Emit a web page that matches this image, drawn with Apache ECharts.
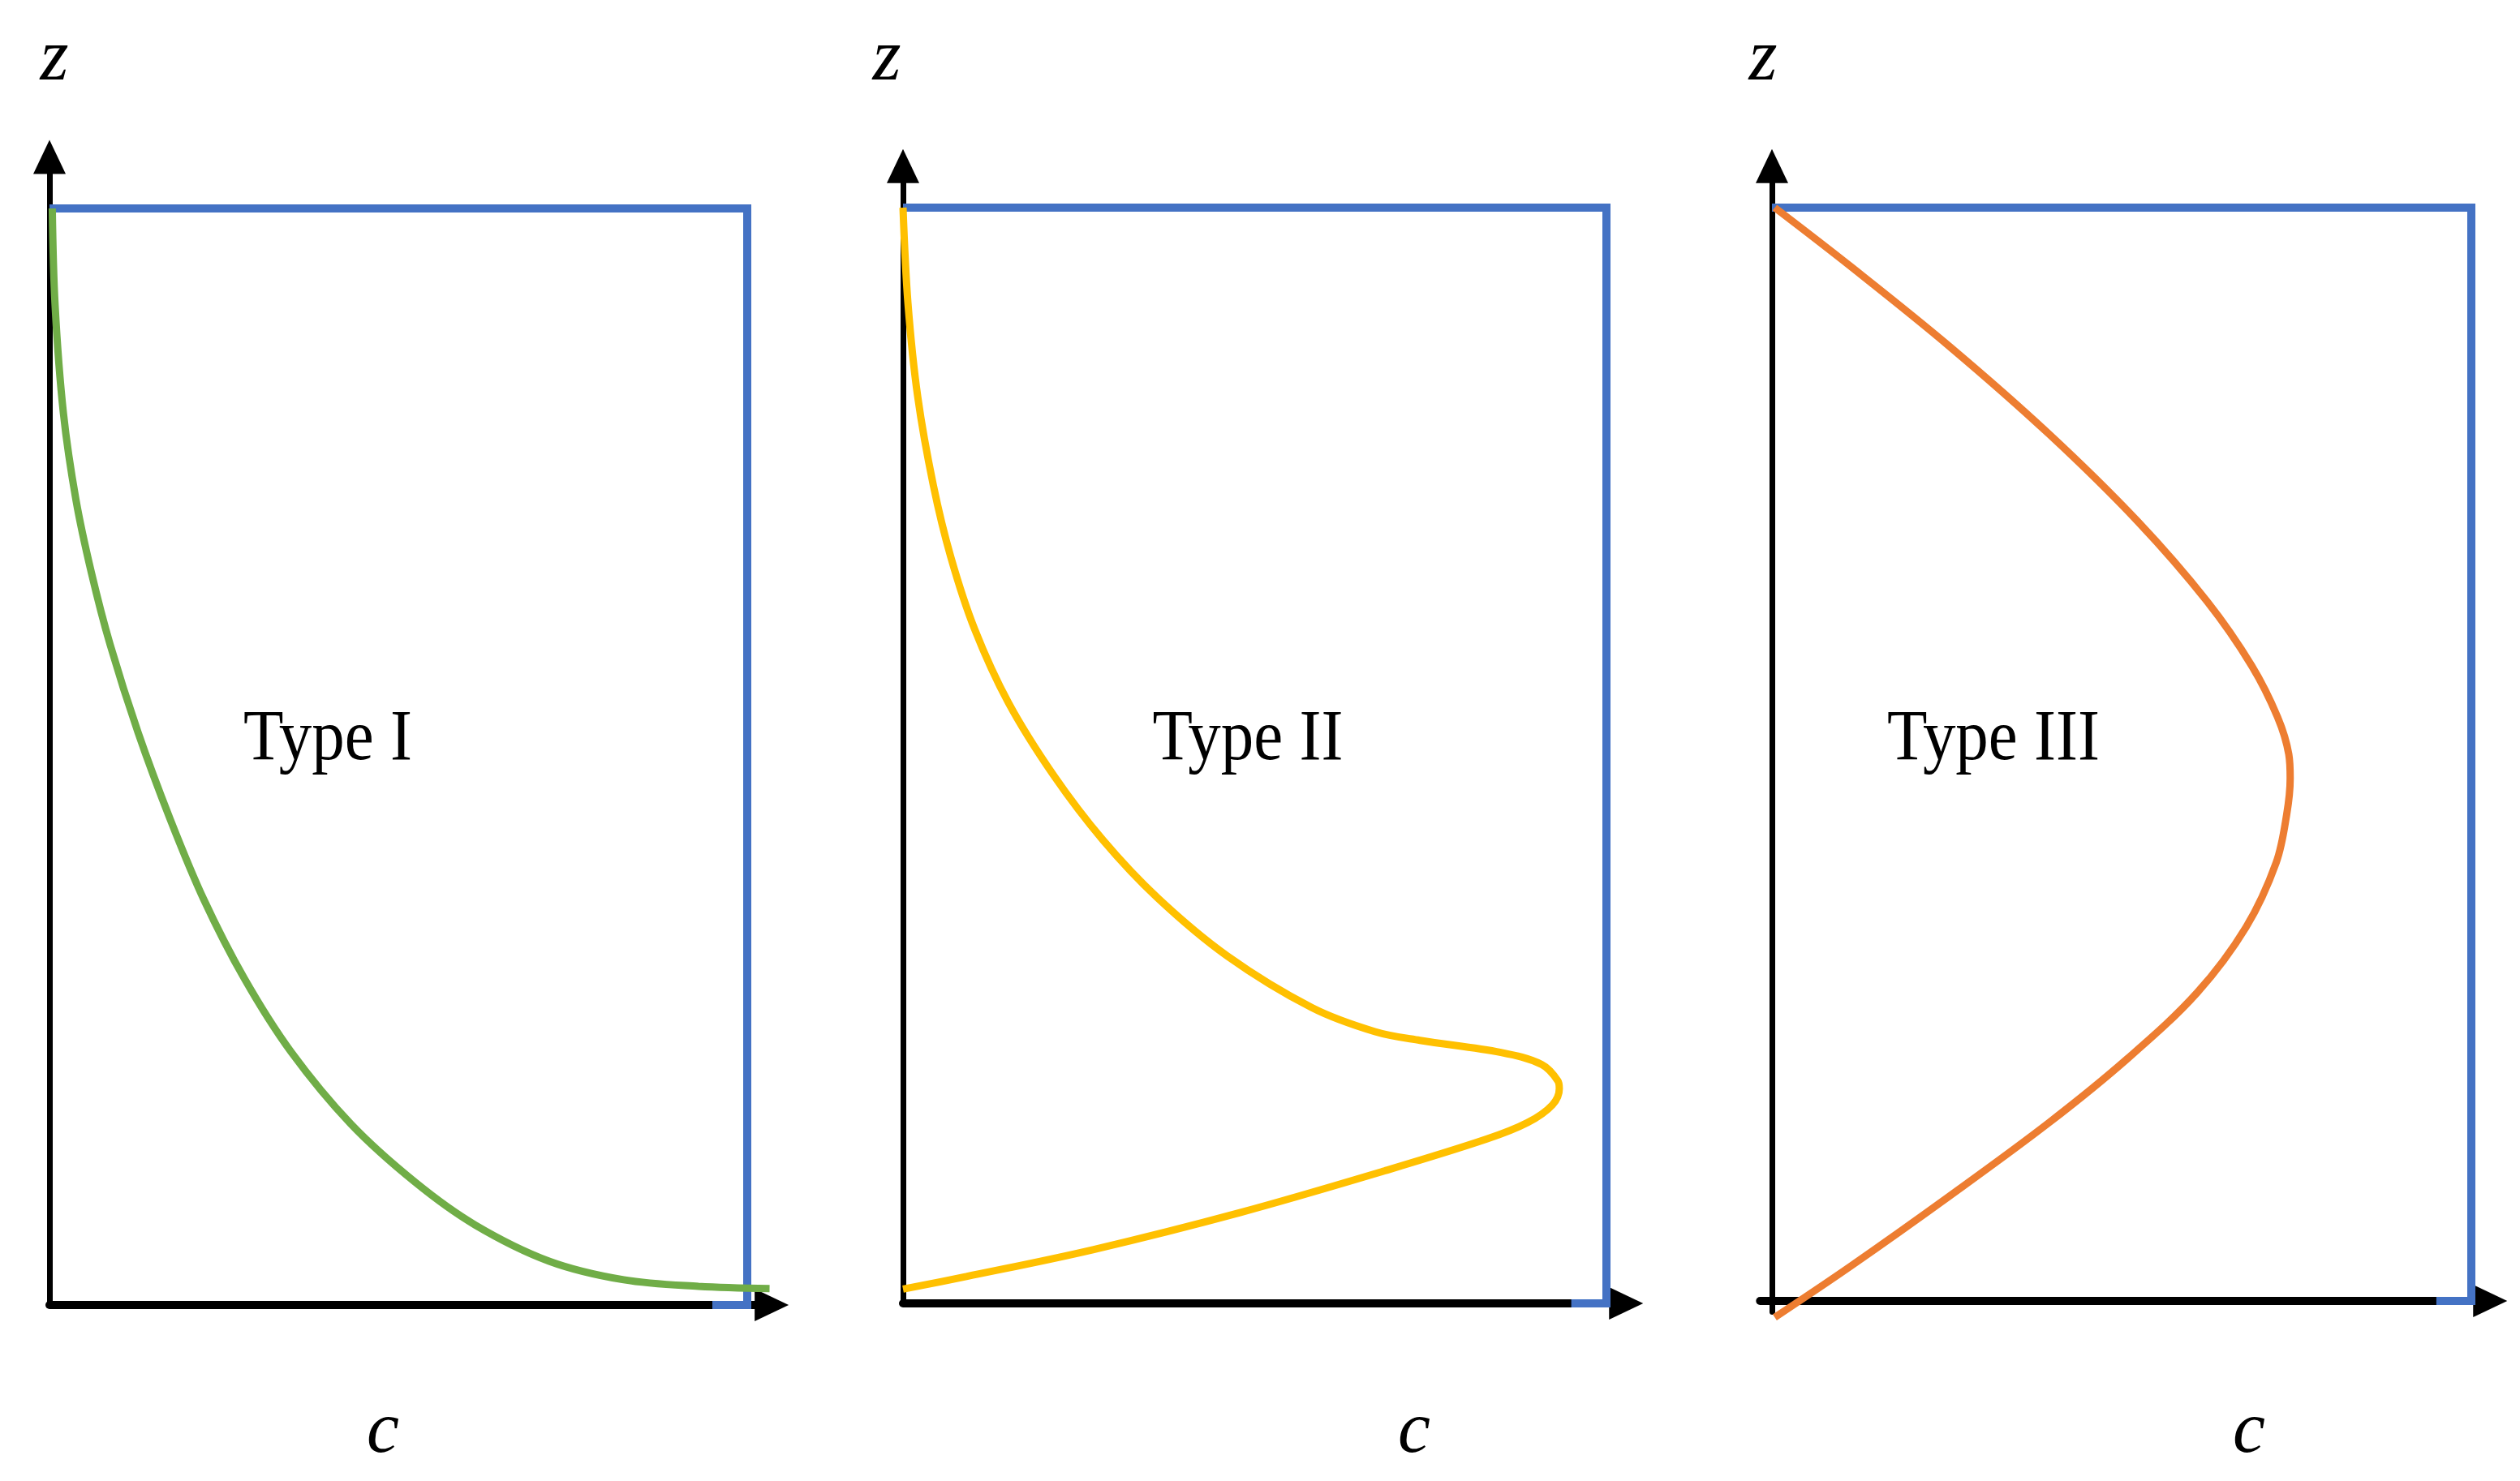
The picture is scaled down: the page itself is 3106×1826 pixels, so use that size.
<!DOCTYPE html>
<html>
<head>
<meta charset="utf-8">
<style>
  html, body { margin: 0; padding: 0; background: #fff; }
  #chart { width: 3106px; height: 1826px; }
</style>
<script src="https://cdn.jsdelivr.net/npm/echarts@6/dist/echarts.min.js"></script>
</head>
<body>
<div id="chart"></div>
<script>
// c = concentration (box width = 1), z = depth (box height = 1)
const typeI_c = [0.004, 0.008, 0.020, 0.038, 0.060, 0.087, 0.127, 0.173, 0.221, 0.279, 0.346, 0.432, 0.524, 0.610, 0.716, 0.823, 0.930, 1.032];
const typeI_z = [1.0, 0.912, 0.813, 0.734, 0.668, 0.602, 0.522, 0.443, 0.370, 0.298, 0.231, 0.165, 0.112, 0.073, 0.040, 0.023, 0.017, 0.015];

const typeII_c = [0, 0.007, 0.021, 0.043, 0.068, 0.102, 0.150, 0.214, 0.284, 0.362, 0.461, 0.581, 0.671, 0.735, 0.850, 0.908, 0.931, 0.933, 0.923, 0.888, 0.830, 0.685, 0.48, 0.27, 0.09, 0];
const typeII_z = [1.0, 0.913, 0.827, 0.747, 0.681, 0.615, 0.548, 0.482, 0.423, 0.370, 0.317, 0.270, 0.248, 0.240, 0.229, 0.218, 0.203, 0.196, 0.181, 0.165, 0.150, 0.121, 0.083, 0.049, 0.0245, 0.013];

const typeIII_c = [0.004, 0.113, 0.254, 0.396, 0.523, 0.622, 0.686, 0.723, 0.739, 0.741, 0.736, 0.721, 0.678, 0.608, 0.509, 0.396, 0.254, 0.113, 0.004];
const typeIII_z = [1.0, 0.946, 0.873, 0.793, 0.713, 0.640, 0.581, 0.534, 0.500, 0.478, 0.445, 0.401, 0.342, 0.282, 0.222, 0.163, 0.096, 0.032, -0.015];

// blue outline: top edge, right edge, short stub along the c axis
const box_c = [0, 1, 1, 0.95];
const box_z = [1, 1, 0, 0];

const typeNames = ['Type I', 'Type II', 'Type III'];
const curveColors = ['#70AD47', '#FFC000', '#ED7D31'];
const curves = [
    [typeI_c, typeI_z],
    [typeII_c, typeII_z],
    [typeIII_c, typeIII_z]
];

// pixel layout of each panel: where c=0/1 and z=0/1 fall, plus axis extents
const panels = [
    { x0: 61, x1: 921, y0: 1609, y1: 257, cMin: 0, cMax: 1.035, zMin: 0, zMax: 1.047 },
    { x0: 1113, x1: 1980, y0: 1607, y1: 256, cMin: 0, cMax: 1.028, zMin: 0, zMax: 1.038 },
    { x0: 2184, x1: 3046, y0: 1604, y1: 256, cMin: -0.017, cMax: 1.027, zMin: -0.01, zMax: 1.038 }
];
const zLabelPos = [[67, 74], [1093, 74], [2173, 74]];
const cLabelPos = [[472, 1766], [1743, 1766], [2772, 1766]];
const typeLabelPos = [[404, 913], [1538, 913], [2457, 913]];

const chartDom = document.getElementById('chart');
const chart = echarts.init(chartDom);

const pairs = (cs, zs) => cs.map((c, i) => [c, zs[i]]);

let grids = [];
let xAxes = [];
let yAxes = [];
let series = [];
let graphics = [];

panels.forEach((p, i) => {
    const sx = p.x1 - p.x0;
    const sy = p.y0 - p.y1;
    grids.push({
        left: p.x0 + p.cMin * sx,
        top: p.y0 - p.zMax * sy,
        width: (p.cMax - p.cMin) * sx,
        height: (p.zMax - p.zMin) * sy
    });
    xAxes.push({
        type: 'value', gridIndex: i, min: p.cMin, max: p.cMax,
        axisLine: {
            show: true, onZero: true,
            symbol: ['none', 'triangle'], symbolSize: [40, 42],
            lineStyle: { color: '#000', width: 10 }
        },
        axisTick: { show: false },
        axisLabel: { show: false },
        splitLine: { show: false }
    });
    yAxes.push({
        type: 'value', gridIndex: i, min: p.zMin, max: p.zMax,
        axisLine: {
            show: true, onZero: true,
            symbol: ['none', 'triangle'], symbolSize: [40, 42],
            lineStyle: { color: '#000', width: 7 }
        },
        axisTick: { show: false },
        axisLabel: { show: false },
        splitLine: { show: false }
    });
    series.push({
        type: 'line', xAxisIndex: i, yAxisIndex: i,
        data: pairs(box_c, box_z),
        showSymbol: false, clip: false, z: 2,
        lineStyle: { color: '#4472C4', width: 10, join: 'miter' }
    });
    series.push({
        type: 'line', xAxisIndex: i, yAxisIndex: i,
        data: pairs(curves[i][0], curves[i][1]),
        smooth: 0.35, showSymbol: false, clip: false, z: 3,
        lineStyle: { color: curveColors[i], width: 9 }
    });

    graphics.push({
        type: 'text', x: zLabelPos[i][0], y: zLabelPos[i][1],
        style: { text: 'z', fontSize: 90, fontStyle: 'italic', fontFamily: 'Liberation Serif', fill: '#000', align: 'center', verticalAlign: 'middle' }
    });
    graphics.push({
        type: 'text', x: cLabelPos[i][0], y: cLabelPos[i][1],
        style: { text: 'c', fontSize: 90, fontStyle: 'italic', fontFamily: 'Liberation Serif', fill: '#000', align: 'center', verticalAlign: 'middle' }
    });
    graphics.push({
        type: 'text', x: typeLabelPos[i][0], y: typeLabelPos[i][1], scaleX: 0.92,
        style: { text: typeNames[i], fontSize: 88, fontFamily: 'Liberation Serif', fill: '#000', align: 'center', verticalAlign: 'middle' }
    });
});

let option = {
    backgroundColor: '#fff',
    animation: false,
    grid: grids,
    xAxis: xAxes,
    yAxis: yAxes,
    series: series,
    graphic: graphics
};

chart.setOption(option);
</script>
</body>
</html>
